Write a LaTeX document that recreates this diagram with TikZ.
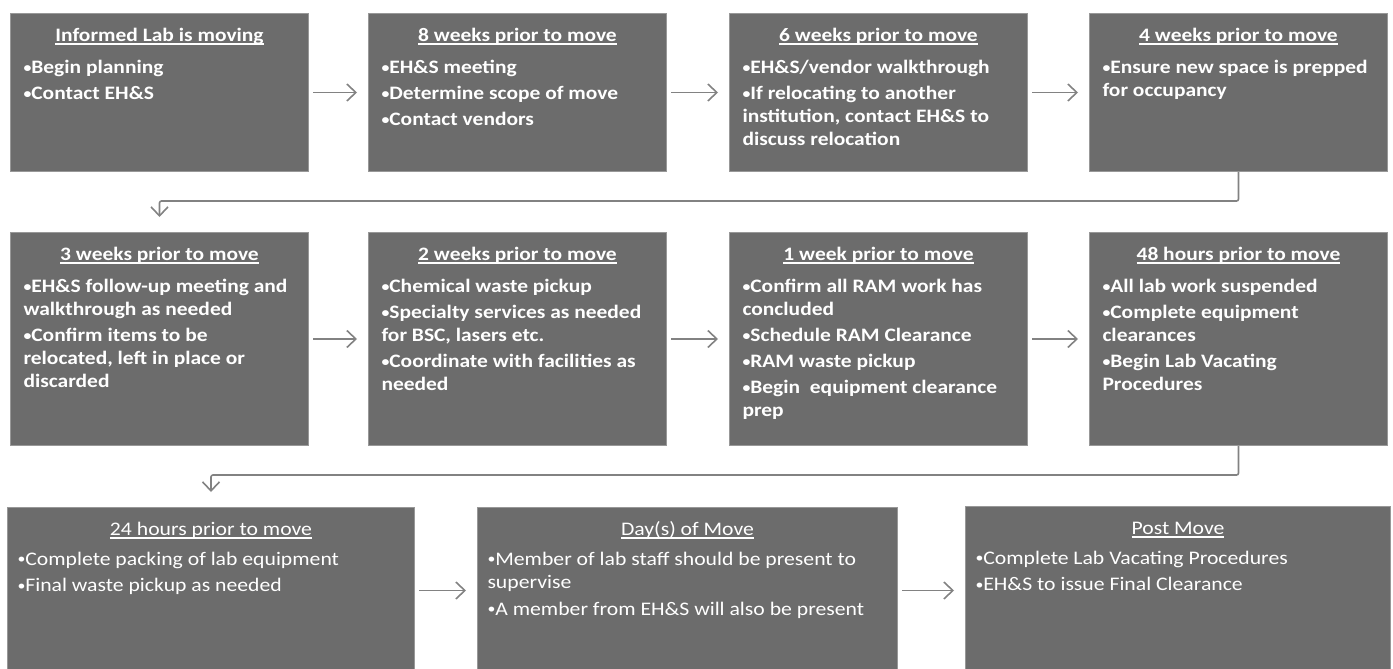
\documentclass[tikz,border=0pt]{standalone}
\usepackage{fontspec}
\setmainfont{Carlito}[FakeStretch=1.13]
\usetikzlibrary{arrows.meta}

\definecolor{boxgray}{RGB}{108,108,108}
\definecolor{edgegray}{RGB}{152,152,152}
\definecolor{linegray}{RGB}{130,130,130}

\newlength{\bulletwd}
\newlength{\titlegap}
\newcommand{\dotmark}{\raisebox{1.5pt}{\fontsize{14}{14}\selectfont\textbullet}}
\newcommand{\steptitle}[1]{\parskip=3pt\centering
  \setbox0\hbox{#1}\rule{0pt}{28pt}\rlap{\rule[-3.5pt]{\wd0}{1.6pt}}\box0\par
  \vspace{\titlegap}\raggedright}
\newcommand{\stepitem}[1]{\par\settowidth{\bulletwd}{\dotmark}%
  \hangindent=\bulletwd\hangafter=1\noindent\dotmark#1}

\tikzset{
  phasebox/.style={draw=edgegray, line width=1pt, fill=boxgray, text=white,
    anchor=north west, inner xsep=13pt, inner ysep=0pt,
    font={\bfseries\fontsize{19}{23}\selectfont\setlength{\titlegap}{6pt}}},
  lightrow/.style={inner xsep=10pt,
    font={\fontsize{19.2}{23.5}\selectfont\setlength{\titlegap}{3pt}}},
  flow/.style={draw=linegray, line width=1.6pt,
    -{Straight Barb[length=9pt,width=17pt,line width=1.6pt]},
    shorten <=4pt, shorten >=11pt},
  elbow/.style={flow, shorten <=0pt, shorten >=15pt, rounded corners=2pt}
}

\begin{document}
\begin{tikzpicture}[x=1pt,y=-1pt]
\useasboundingbox (0,0) rectangle (1393,669);

\node[phasebox] (informed) at (10,13) {\parbox[c][158pt][t]{272pt}{\steptitle{Informed Lab is moving}
  \stepitem{Begin planning}
  \stepitem{Contact EH\&S}}};
\node[phasebox] (eightwk) at (368,13) {\parbox[c][158pt][t]{272pt}{\steptitle{8 weeks prior to move}
  \stepitem{EH\&S meeting}
  \stepitem{Determine scope of move}
  \stepitem{Contact vendors}}};
\node[phasebox] (sixwk) at (729,13) {\parbox[c][158pt][t]{272pt}{\steptitle{6 weeks prior to move}
  \stepitem{EH\&S/vendor walkthrough}
  \stepitem{If relocating to another\\institution, contact EH\&S to\\discuss relocation}}};
\node[phasebox] (fourwk) at (1089,13) {\parbox[c][158pt][t]{272pt}{\steptitle{4 weeks prior to move}
  \stepitem{Ensure new space is prepped\\for occupancy}}};

\node[phasebox] (threewk) at (10,232) {\parbox[c][213pt][t]{272pt}{\steptitle{3 weeks prior to move}
  \stepitem{EH\&S follow-up meeting and\\walkthrough as needed}
  \stepitem{Confirm items to be\\relocated, left in place or\\discarded}}};
\node[phasebox] (twowk) at (368,232) {\parbox[c][213pt][t]{272pt}{\steptitle{2 weeks prior to move}
  \stepitem{Chemical waste pickup}
  \stepitem{Specialty services as needed\\for BSC, lasers etc.}
  \stepitem{Coordinate with facilities as\\needed}}};
\node[phasebox] (onewk) at (729,232) {\parbox[c][213pt][t]{272pt}{\steptitle{1 week prior to move}
  \stepitem{Confirm all RAM work has\\concluded}
  \stepitem{Schedule RAM Clearance}
  \stepitem{RAM waste pickup}
  \stepitem{Begin\ \ equipment clearance\\prep}}};
\node[phasebox] (fortyeight) at (1089,232) {\parbox[c][213pt][t]{272pt}{\steptitle{48 hours prior to move}
  \stepitem{All lab work suspended}
  \stepitem{Complete equipment\\clearances}
  \stepitem{Begin Lab Vacating\\Procedures}}};

\node[phasebox,lightrow] (twentyfour) at (7,507) {\parbox[c][166pt][t]{387pt}{\steptitle{24 hours prior to move}
  \stepitem{Complete packing of lab equipment}
  \stepitem{Final waste pickup as needed}}};
\node[phasebox,lightrow] (moveday) at (477,507) {\parbox[c][166pt][t]{400pt}{\steptitle{Day(s) of Move}
  \stepitem{Member of lab staff should be present to\\supervise}
  \stepitem{A member from EH\&S will also be present}}};
\node[phasebox,lightrow] (postmove) at (965,506) {\parbox[c][168pt][t]{405pt}{\steptitle{Post Move}
  \stepitem{Complete Lab Vacating Procedures}
  \stepitem{EH\&S to issue Final Clearance}}};

\draw[flow] (informed.east) -- (eightwk.west);
\draw[flow] (eightwk.east) -- (sixwk.west);
\draw[flow] (sixwk.east) -- (fourwk.west);
\draw[elbow] (fourwk.south) -- ++(0,29) -| (threewk.north);
\draw[flow] (threewk.east) -- (twowk.west);
\draw[flow] (twowk.east) -- (onewk.west);
\draw[flow] (onewk.east) -- (fortyeight.west);
\draw[elbow] (fortyeight.south) -- ++(0,29) -| (twentyfour.north);
\draw[flow] (twentyfour.east) -- (moveday.west);
\draw[flow] (moveday.east) -- (postmove.west);
\end{tikzpicture}
\end{document}
